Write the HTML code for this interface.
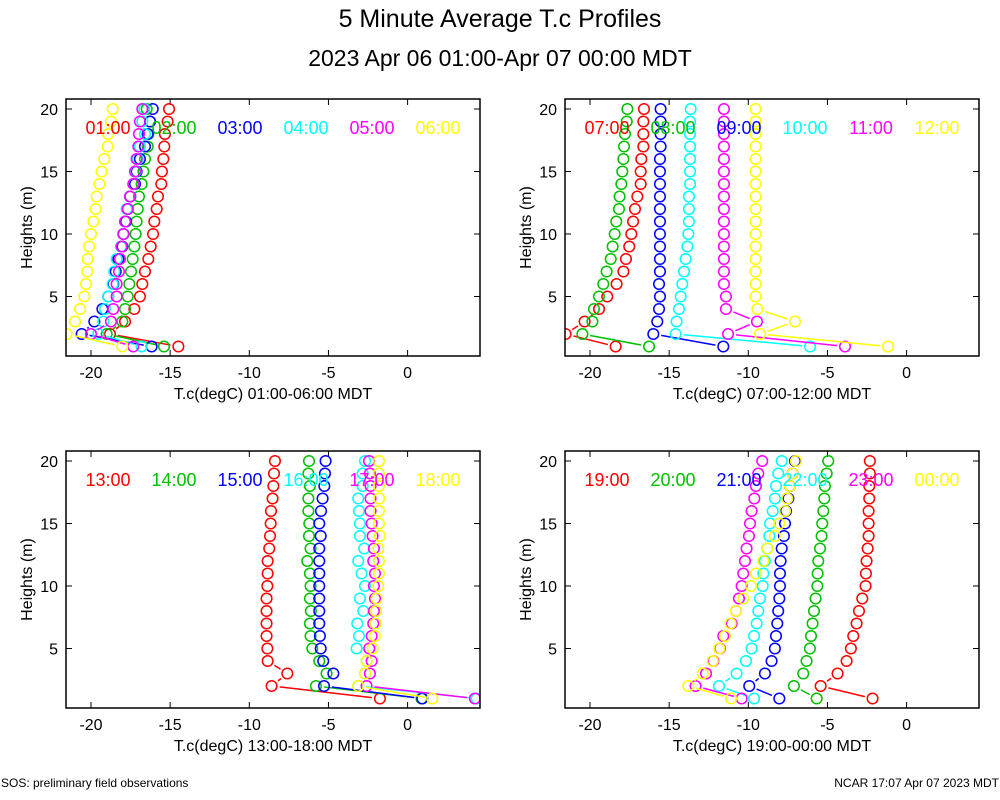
<!DOCTYPE html>
<html><head><meta charset="utf-8"><style>
body{margin:0;background:#fff;}
svg{display:block;font-family:"Liberation Sans",sans-serif;}
</style></head><body>
<svg id="chart" width="1000" height="800" viewBox="0 0 1000 800">
<text x="500" y="27" font-size="25" text-anchor="middle">5 Minute Average T.c Profiles</text>
<text x="500" y="66" font-size="23" text-anchor="middle">2023 Apr 06 01:00-Apr 07 00:00 MDT</text>
<text x="1" y="787" font-size="12">SOS: preliminary field observations</text>
<text x="999" y="787" font-size="12" text-anchor="end">NCAR 17:07 Apr 07 2023 MDT</text>
<g id="plots"></g>
</svg>
<script>
const heights=[20,19,18,17,16,15,14,13,12,11,10,9,8,7,6,5,4,3,2,1];
const xTicks=[-20,-15,-10,-5,0];
const yTicks=[5,10,15,20];
const colors=["#ff0000","#00c000","#0000ff","#00ffff","#ff00ff","#ffff00"];
const p1Labels=["01:00","02:00","03:00","04:00","05:00","06:00"];
const p2Labels=["07:00","08:00","09:00","10:00","11:00","12:00"];
const p3Labels=["13:00","14:00","15:00","16:00","17:00","18:00"];
const p4Labels=["19:00","20:00","21:00","22:00","23:00","00:00"];
const p1Red=[-15.07,-15.16,-15.33,-15.37,-15.43,-15.52,-15.56,-15.77,-15.85,-16.0,-16.08,-16.23,-16.38,-16.59,-16.76,-16.91,-17.26,-17.85,-18.8,-14.48];
const p1Green=[-16.48,-16.27,-16.38,-16.42,-16.59,-16.69,-16.8,-16.97,-17.05,-17.12,-17.18,-17.26,-17.37,-17.47,-17.58,-17.68,-17.85,-18.02,-19.01,-15.39];
const p1Blue=[-16.1,-16.27,-16.42,-16.59,-16.91,-17.12,-17.22,-17.52,-17.68,-17.79,-17.94,-18.02,-18.27,-18.44,-18.59,-18.91,-19.28,-19.79,-20.59,-16.17];
const p1Cyan=[-16.63,-16.76,-16.59,-16.91,-17.05,-17.18,-17.31,-17.54,-17.75,-17.85,-17.96,-18.11,-18.38,-18.53,-18.63,-18.91,-19.12,-19.22,-19.54,-16.8];
const p1Magenta=[-16.76,-16.91,-16.97,-17.01,-17.12,-17.22,-17.33,-17.54,-17.68,-17.85,-17.96,-18.06,-18.17,-18.23,-18.38,-18.38,-18.59,-18.74,-20.0,-17.33];
const p1Yellow=[-18.63,-18.74,-18.91,-18.95,-19.16,-19.33,-19.47,-19.64,-19.71,-19.85,-20.0,-20.11,-20.21,-20.23,-20.32,-20.42,-20.69,-21.01,-21.54,-18.02];
const p2Red=[-16.59,-16.63,-16.63,-16.63,-16.76,-16.8,-16.8,-17.01,-17.16,-17.28,-17.39,-17.52,-17.73,-17.89,-18.32,-18.91,-19.43,-20.34,-21.54,-18.38];
const p2Green=[-17.64,-17.68,-17.79,-17.85,-17.89,-17.96,-18.02,-18.13,-18.17,-18.34,-18.44,-18.57,-18.69,-18.95,-19.16,-19.43,-19.75,-19.85,-20.48,-16.27];
const p2Blue=[-15.54,-15.54,-15.54,-15.54,-15.58,-15.58,-15.58,-15.58,-15.58,-15.58,-15.58,-15.58,-15.58,-15.58,-15.64,-15.58,-15.64,-15.75,-16.0,-11.58];
const p2Cyan=[-13.64,-13.68,-13.68,-13.68,-13.68,-13.68,-13.68,-13.75,-13.75,-13.75,-13.79,-13.85,-13.96,-14.06,-14.17,-14.27,-14.38,-14.53,-14.59,-6.1];
const p2Magenta=[-11.54,-11.54,-11.54,-11.54,-11.54,-11.54,-11.54,-11.54,-11.54,-11.54,-11.54,-11.54,-11.54,-11.54,-11.54,-11.41,-11.41,-9.45,-11.28,-3.89];
const p2Yellow=[-9.54,-9.54,-9.54,-9.54,-9.54,-9.54,-9.54,-9.54,-9.54,-9.54,-9.54,-9.54,-9.54,-9.54,-9.54,-9.54,-9.43,-7.05,-9.26,-1.17];
const p3Red=[-8.38,-8.44,-8.48,-8.53,-8.63,-8.65,-8.69,-8.74,-8.84,-8.84,-8.86,-8.91,-8.91,-8.91,-8.91,-8.86,-8.84,-7.6,-8.59,-1.75];
const p3Green=[-6.23,-6.27,-6.17,-6.27,-6.27,-6.21,-6.23,-6.13,-6.34,-6.17,-6.13,-6.17,-6.11,-6.17,-6.13,-6.02,-5.58,-5.12,-5.79,0.88];
const p3Blue=[-5.18,-5.22,-5.26,-5.37,-5.47,-5.58,-5.49,-5.58,-5.58,-5.58,-5.58,-5.58,-5.58,-5.58,-5.54,-5.49,-5.33,-4.69,-5.28,0.93];
const p3Cyan=[-2.69,-2.84,-2.84,-3.12,-3.07,-3.01,-3.01,-2.74,-3.12,-2.91,-2.69,-3.01,-2.8,-3.18,-3.07,-3.22,-2.59,-2.69,-3.12,4.36];
const p3Magenta=[-2.44,-2.38,-2.34,-2.34,-2.34,-2.27,-2.21,-2.13,-2.17,-2.06,-2.13,-2.06,-2.13,-2.17,-2.27,-2.42,-2.27,-2.38,-2.59,4.25];
const p3Yellow=[-1.81,-1.81,-1.81,-1.79,-1.81,-1.81,-1.75,-1.85,-1.81,-1.81,-1.85,-1.96,-2.0,-2.02,-2.06,-2.21,-2.59,-2.69,-3.12,1.56];
const p4Red=[-2.32,-2.32,-2.36,-2.36,-2.4,-2.4,-2.4,-2.46,-2.53,-2.57,-2.59,-2.8,-3.01,-3.16,-3.37,-3.52,-3.79,-4.36,-5.43,-2.15];
const p4Green=[-4.95,-5.05,-5.16,-5.2,-5.26,-5.33,-5.37,-5.47,-5.58,-5.62,-5.64,-5.75,-5.85,-5.94,-6.04,-6.11,-6.32,-6.53,-7.12,-5.68];
const p4Blue=[-7.05,-7.2,-7.37,-7.47,-7.62,-7.68,-7.75,-7.89,-7.96,-8.0,-8.0,-8.04,-8.11,-8.17,-8.25,-8.32,-8.53,-8.95,-9.94,-8.04];
const p4Cyan=[-7.89,-8.11,-8.25,-8.32,-8.46,-8.63,-8.67,-8.8,-8.95,-9.05,-9.09,-9.26,-9.37,-9.47,-9.64,-9.79,-10.15,-10.74,-11.85,-9.64];
const p4Magenta=[-9.12,-9.37,-9.52,-9.62,-9.79,-9.89,-9.96,-10.11,-10.21,-10.32,-10.42,-10.59,-10.78,-11.05,-11.58,-11.79,-12.21,-12.67,-13.33,-10.42];
const p4Yellow=[-6.99,-7.2,-7.37,-7.54,-7.68,-8.04,-8.32,-8.78,-9.05,-9.52,-9.83,-10.32,-10.78,-11.12,-11.47,-11.83,-12.25,-12.88,-13.79,-11.09];

const NS="http://www.w3.org/2000/svg";
const root=document.getElementById('plots');
function mk(tag,attrs,parent){const e=document.createElementNS(NS,tag);for(const k in attrs)e.setAttribute(k,attrs[k]);parent.appendChild(e);return e;}
const panels=[
 {fx:66,fy:99,x0:91,y0:109,labels:p1Labels,series:[p1Red,p1Green,p1Blue,p1Cyan,p1Magenta,p1Yellow],title:"T.c(degC) 01:00-06:00 MDT"},
 {fx:565,fy:99,x0:590,y0:109,labels:p2Labels,series:[p2Red,p2Green,p2Blue,p2Cyan,p2Magenta,p2Yellow],title:"T.c(degC) 07:00-12:00 MDT"},
 {fx:66,fy:451,x0:91,y0:461,labels:p3Labels,series:[p3Red,p3Green,p3Blue,p3Cyan,p3Magenta,p3Yellow],title:"T.c(degC) 13:00-18:00 MDT"},
 {fx:565,fy:451,x0:590,y0:461,labels:p4Labels,series:[p4Red,p4Green,p4Blue,p4Cyan,p4Magenta,p4Yellow],title:"T.c(degC) 19:00-00:00 MDT"}
];
const FW=414,FH=257,XS=15.83,YS=12.5;
panels.forEach((p,pi)=>{
 const g=mk('g',{},root);
 
 
 const sx=t=>p.x0+(t+20)*XS;
 const sy=h=>p.y0+(20-h)*YS;
 const clipId='clip'+pi;
 const cp=mk('clipPath',{id:clipId},g);
 mk('rect',{x:p.fx,y:p.fy,width:FW,height:FH},cp);
 xTicks.forEach(t=>{
  const x=sx(t);
  mk('line',{x1:x,y1:p.fy+FH,x2:x,y2:p.fy+FH-6,stroke:'#000','stroke-width':1},g);
  mk('line',{x1:x,y1:p.fy,x2:x,y2:p.fy+6,stroke:'#000','stroke-width':1},g);
  const tl=mk('text',{x:x,y:p.fy+FH+22,'font-size':16,'text-anchor':'middle'},g);
  
  
  tl.textContent=t;
 });
 yTicks.forEach(h=>{
  const y=sy(h);
  mk('line',{x1:p.fx,y1:y,x2:p.fx+6,y2:y,stroke:'#000','stroke-width':1},g);
  mk('line',{x1:p.fx+FW,y1:y,x2:p.fx+FW-6,y2:y,stroke:'#000','stroke-width':1},g);
  const tl=mk('text',{x:p.fx-8,y:y+6,'font-size':16,'text-anchor':'end'},g);
  
  
  tl.textContent=h;
 });
 const xt=mk('text',{x:p.fx+FW/2,y:p.fy+FH+43,'font-size':16,'text-anchor':'middle'},g);
 
 
 xt.textContent=p.title;
 const yx=p.fx-34,yy=p.fy+FH/2;
 const yt=mk('text',{x:yx,y:yy,'font-size':16,'text-anchor':'middle',transform:'rotate(-90 '+yx+' '+yy+')'},g);
 
 
 yt.textContent='Heights (m)';
 const dg=mk('g',{'clip-path':'url(#'+clipId+')'},g);
 p.series.forEach((vals,si)=>{
  const sg=mk('g',{},dg);
  
  
  const pts=vals.map((t,i)=>[sx(t),sy(heights[i])]);
  for(let i=0;i<pts.length-1;i++){
   const [a,b]=[pts[i],pts[i+1]];const dx=b[0]-a[0],dy=b[1]-a[1];const L=Math.hypot(dx,dy);const gap=8;
   if(L>2*gap+1){const ux=dx/L,uy=dy/L;
    mk('line',{x1:a[0]+ux*gap,y1:a[1]+uy*gap,x2:b[0]-ux*gap,y2:b[1]-uy*gap,stroke:colors[si],'stroke-width':1.5},sg);}
  }
  pts.forEach(pt=>{
   const c=mk('circle',{cx:pt[0],cy:pt[1],r:5.3,fill:'none',stroke:colors[si],'stroke-width':1.5},sg);
   
   
  });
 });
 p.labels.forEach((l,si)=>{
  const lt=mk('text',{x:p.fx+42+si*66,y:p.fy+35,'font-size':18,'text-anchor':'middle',fill:colors[si]},g);
  
  
  lt.textContent=l;
 });
 mk('rect',{x:p.fx,y:p.fy,width:FW,height:FH,fill:'none',stroke:'#000','stroke-width':1.5},g);
});
</script>
</body></html>
